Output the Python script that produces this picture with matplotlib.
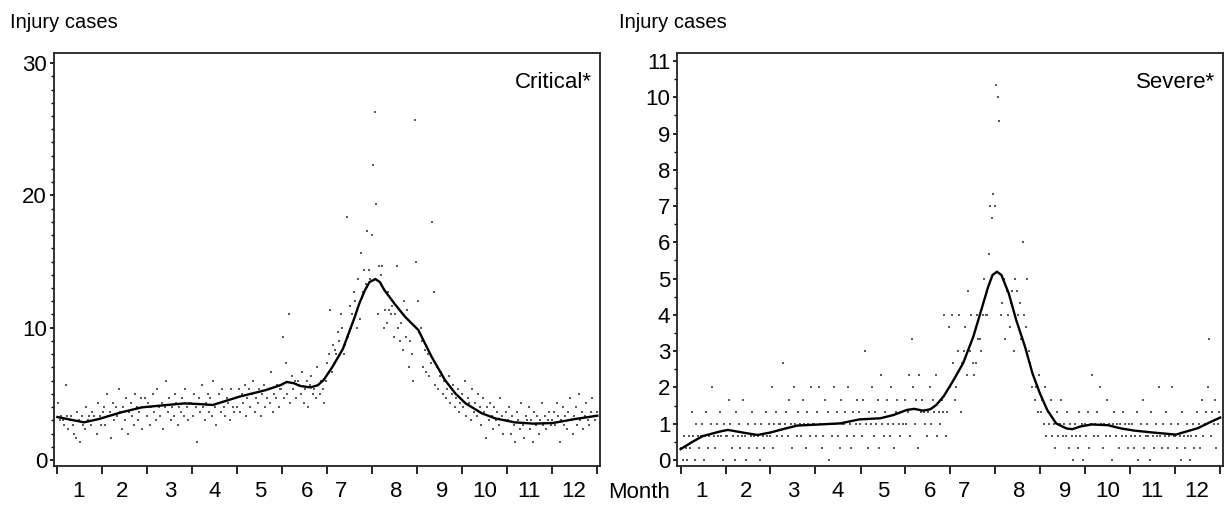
import numpy as np
import matplotlib
matplotlib.use("Agg")
import matplotlib.pyplot as plt

plt.rcParams['font.family'] = ['Liberation Sans Narrow', 'Liberation Sans', 'DejaVu Sans']

# daily cases, three-year totals (plotted as mean per year), one list per calendar month
critical_months = [
    [13, 9, 10, 9, 8, 17, 10, 7, 9, 10, 8, 6, 5, 11, 9, 4, 10, 8, 7, 12, 9, 10, 8, 11, 10, 9, 6, 13, 10, 8, 11],
    [12, 8, 15, 10, 11, 5, 13, 9, 12, 10, 16, 11, 7, 12, 9, 14, 6, 11, 13, 10, 8, 15, 12, 9, 11, 14, 7, 12],
    [14, 10, 13, 8, 12, 15, 11, 9, 16, 12, 10, 13, 7, 12, 18, 11, 14, 9, 12, 10, 15, 13, 8, 12, 11, 14, 10, 16, 12, 9, 13],
    [13, 10, 15, 12, 4, 14, 11, 17, 12, 9, 13, 15, 11, 14, 10, 18, 12, 8, 13, 15, 11, 16, 12, 10, 14, 13, 9, 16, 12, 11],
    [14, 12, 16, 11, 15, 13, 17, 10, 14, 16, 12, 15, 18, 11, 14, 13, 16, 10, 15, 17, 12, 14, 16, 13, 20, 11, 15, 14, 17, 12, 16],
    [16, 28, 14, 22, 15, 33, 13, 19, 16, 18, 14, 18, 17, 15, 20, 13, 16, 18, 12, 17, 19, 15, 16, 14, 21, 17, 15, 18, 16, 13],
    [18, 22, 24, 34, 20, 26, 25, 24, 29, 27, 33, 30, 24, 26, 55, 28, 35, 30, 33, 38, 36, 30, 41, 32, 47, 38, 43, 40, 52, 43, 41],
    [51, 67, 79, 58, 33, 44, 42, 44, 30, 34, 31, 38, 34, 33, 35, 28, 33, 44, 30, 27, 31, 25, 36, 28, 34, 21, 27, 24, 18, 77, 45],
    [36, 29, 30, 27, 21, 25, 20, 24, 19, 22, 54, 38, 17, 21, 16, 19, 20, 15, 18, 14, 16, 19, 13, 15, 17, 12, 14, 16, 11, 13],
    [15, 12, 18, 10, 14, 13, 9, 16, 11, 13, 10, 15, 12, 8, 14, 11, 5, 12, 9, 13, 10, 7, 12, 9, 11, 8, 14, 10, 6, 9, 11],
    [9, 12, 6, 10, 8, 4, 11, 9, 7, 13, 8, 5, 10, 9, 12, 7, 9, 4, 11, 8, 10, 6, 9, 13, 8, 10, 7, 9, 11, 8],
    [9, 11, 8, 13, 10, 4, 9, 12, 8, 10, 7, 11, 14, 9, 6, 10, 12, 8, 15, 9, 11, 7, 10, 13, 9, 8, 11, 14, 10, 9, 11],
]
severe_months = [
    [1, 0, 2, 1, 0, 2, 1, 4, 2, 0, 3, 2, 1, 2, 3, 0, 2, 4, 1, 2, 3, 6, 2, 1, 3, 2, 4, 2, 0, 3, 2],
    [2, 5, 3, 1, 2, 0, 4, 2, 3, 1, 2, 5, 2, 0, 3, 1, 2, 4, 2, 3, 1, 2, 0, 3, 2, 1, 4, 2],
    [3, 2, 6, 1, 3, 4, 2, 3, 3, 2, 8, 3, 4, 2, 5, 3, 1, 6, 3, 2, 4, 3, 2, 5, 3, 1, 4, 3, 2, 6, 3],
    [3, 2, 4, 6, 3, 1, 2, 5, 3, 4, 0, 3, 2, 6, 3, 4, 2, 1, 5, 3, 3, 4, 2, 6, 3, 1, 4, 2, 3, 5],
    [4, 3, 2, 5, 9, 3, 1, 4, 3, 6, 2, 4, 3, 5, 1, 7, 3, 2, 4, 5, 3, 2, 6, 3, 1, 4, 5, 3, 2, 4, 3],
    [5, 3, 4, 7, 2, 10, 6, 3, 5, 1, 7, 4, 5, 4, 3, 2, 4, 6, 3, 5, 4, 7, 2, 4, 3, 5, 4, 12, 2, 4],
    [11, 6, 12, 8, 5, 6, 9, 12, 4, 8, 9, 11, 7, 14, 9, 12, 8, 7, 8, 12, 10, 10, 9, 12, 15, 12, 12, 17, 21, 20, 22],
    [21, 31, 30, 28, 12, 13, 15, 10, 14, 12, 11, 13, 14, 9, 15, 14, 12, 13, 10, 18, 12, 11, 15, 9, 8, 6, 7, 5, 6, 4, 7],
    [4, 5, 3, 6, 2, 4, 3, 5, 2, 3, 1, 4, 2, 3, 5, 2, 3, 2, 4, 1, 3, 2, 0, 3, 2, 1, 4, 2, 3, 0],
    [3, 2, 4, 1, 3, 7, 2, 3, 4, 2, 6, 3, 1, 3, 2, 5, 3, 2, 0, 3, 4, 2, 3, 1, 3, 2, 4, 3, 2, 1, 3],
    [2, 3, 1, 2, 4, 0, 2, 3, 5, 1, 2, 3, 2, 0, 4, 2, 1, 3, 2, 6, 2, 1, 3, 2, 4, 1, 2, 3, 6, 2],
    [2, 1, 3, 2, 0, 4, 2, 1, 3, 2, 0, 2, 3, 1, 2, 4, 3, 1, 5, 2, 3, 4, 6, 10, 2, 4, 3, 5, 1, 3, 4],
]
n_years = 3

# smoothed curves (day of year, cases)
critical_curve_day = [0, 9, 18, 28, 43, 57, 73, 86, 96, 105, 123, 141, 151, 155, 160, 164, 171, 176, 180,
                      186, 193, 201, 204, 208, 211, 215, 218, 221, 228, 235, 244, 253, 262, 269, 276, 287,
                      296, 309, 322, 335, 350, 365]
critical_curve = [3.25, 3.05, 2.85, 3.1, 3.6, 3.98, 4.15, 4.28, 4.23, 4.16, 4.79, 5.29, 5.67, 5.9, 5.8,
                  5.6, 5.49, 5.65, 6.05, 7.05, 8.4, 10.8, 11.8, 12.85, 13.45, 13.68, 13.45, 12.85, 11.8,
                  10.83, 9.83, 7.8, 6.05, 5.04, 4.28, 3.53, 3.15, 2.85, 2.75, 2.8, 3.1, 3.35]
severe_curve_day = [0, 8, 15, 26, 32, 43, 52, 61, 70, 79, 94, 108, 121, 135, 144, 153, 158, 164, 169, 173,
                    178, 184, 191, 198, 204, 208, 211, 214, 217, 222, 227, 233, 238, 243, 248, 254, 261,
                    265, 270, 278, 289, 298, 307, 319, 335, 350, 358, 365]
severe_curve = [0.3, 0.5, 0.66, 0.78, 0.83, 0.75, 0.69, 0.76, 0.86, 0.95, 0.98, 1.01, 1.12, 1.15, 1.24,
                1.38, 1.41, 1.36, 1.4, 1.52, 1.76, 2.16, 2.66, 3.4, 4.22, 4.77, 5.1, 5.19, 5.1, 4.59, 3.86,
                3.12, 2.39, 1.84, 1.38, 1.01, 0.87, 0.85, 0.92, 0.98, 0.96, 0.87, 0.81, 0.76, 0.7, 0.88,
                1.04, 1.17]

month_labels = ['1', '2', '3', '4', '5', '6', '7', '8', '9', '10', '11', '12']
month_label_day = [14, 44, 76, 106, 137, 169, 192, 229, 260, 289, 319, 349]
month_tick_day = [0, 30.4, 60.8, 91.2, 121.7, 152.1, 182.5, 212.9, 243.3, 273.8, 304.2, 334.6, 365]

critical = np.concatenate(critical_months) / n_years
severe = np.concatenate(severe_months) / n_years
days = np.arange(1, len(critical) + 1) - 0.5

fig = plt.figure(figsize=(12.24, 5.05), dpi=100)
W, H = 1224, 505
ax1 = fig.add_axes([54 / W, 1 - 466 / H, 546.4 / W, 413 / H])
ax2 = fig.add_axes([677.2 / W, 1 - 466 / H, 546.1 / W, 413 / H])

panels = [
    (ax1, critical, critical_curve_day, critical_curve, 'Critical*', (-0.45, 30.76), [0, 10, 20, 30], 1),
    (ax2, severe, severe_curve_day, severe_curve, 'Severe*', (-0.165, 11.22), list(range(12)), 0.5),
]

for ax, vals, cx, cy, name, ylim, yt, ystep in panels:
    ax.scatter(days, vals, s=4, marker='s', color='#5a5a5a', linewidths=0, zorder=2)
    ax.plot(cx, cy, color='black', lw=1.7, zorder=3, solid_joinstyle='round')
    ax.set_xlim(-2.3, 367.1)
    ax.set_ylim(*ylim)
    ax.set_xticks(month_tick_day)
    ax.set_xticklabels([])
    ax.set_xticks(month_label_day, month_labels, minor=True)
    ax.tick_params(axis='x', which='major', direction='out', length=6, width=1.2, color='black')
    ax.tick_params(axis='x', which='minor', length=0, pad=11, labelsize=16)
    ax.set_yticks(yt)
    ax.set_yticks(np.arange(0, ylim[1], ystep), minor=True)
    ax.tick_params(axis='y', which='major', direction='out', length=3, width=1.2, pad=2, labelsize=16)
    ax.tick_params(axis='y', which='minor', direction='out', length=2, width=1)
    for sp in ax.spines.values():
        sp.set_linewidth(1.3)
        sp.set_color('#222222')
    ax.text(0.985, 0.955, name, transform=ax.transAxes, ha='right', va='top', fontsize=16)

fig.text(10 / W, 1 - 28 / H, 'Injury cases', fontsize=14.5, ha='left', va='baseline')
fig.text(619 / W, 1 - 28 / H, 'Injury cases', fontsize=14.5, ha='left', va='baseline')
fig.text(608 / W, 1 - 498 / H, 'Month', fontsize=16, ha='left', va='baseline')

fig.savefig('out.png', dpi=100)
